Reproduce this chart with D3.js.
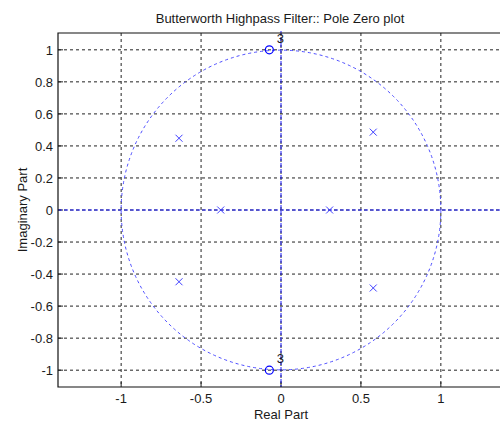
<!DOCTYPE html>
<html>
<head>
<meta charset="utf-8">
<script src="https://cdn.jsdelivr.net/npm/d3@7"></script>
<style>
  body { margin: 0; background: #fff; }
  svg text { font-family: Arial, "Liberation Sans", sans-serif; fill: #1a1a1a; }
</style>
</head>
<body>
<svg width="500" height="423"></svg>
<script>
// poles (x) and zeros (o)
var poleRe = [-0.638, -0.638, -0.377, 0.304, 0.577, 0.577];
var poleIm = [0.448, -0.448, 0, 0, 0.486, -0.487];
var zeroRe = [-0.073, -0.073];
var zeroIm = [1, -1];
var zeroMult = ["3", "3"];

var xTicks = [-1, -0.5, 0, 0.5, 1];
var xTickLabels = ["-1", "-0.5", "0", "0.5", "1"];
var yTicks = [-1, -0.8, -0.6, -0.4, -0.2, 0, 0.2, 0.4, 0.6, 0.8, 1];
var yTickLabels = ["-1", "-0.8", "-0.6", "-0.4", "-0.2", "0", "0.2", "0.4", "0.6", "0.8", "1"];

// plot box (right edge falls just outside the window)
var pLeft = 58, pTop = 33, pRight = 504, pBottom = 387;

var svg = d3.select("svg");

var x = d3.scaleLinear().domain([-1.395, 1.395]).range([pLeft, pRight]);
var y = d3.scaleLinear().domain([-1.105, 1.105]).range([pBottom, pTop]);

// grid
svg.append("g").selectAll("line")
  .data(xTicks)
  .enter()
  .append("line")
  .attr("x1", function (d) { return x(d); })
  .attr("x2", function (d) { return x(d); })
  .attr("y1", pTop)
  .attr("y2", pBottom)
  .attr("stroke", "#222")
  .attr("stroke-dasharray", "3,3");

svg.append("g").selectAll("line")
  .data(yTicks)
  .enter()
  .append("line")
  .attr("x1", pLeft)
  .attr("x2", pRight)
  .attr("y1", function (d) { return y(d); })
  .attr("y2", function (d) { return y(d); })
  .attr("stroke", "#222")
  .attr("stroke-dasharray", "3,3");

// tick marks (inside)
svg.append("g").selectAll("line")
  .data(xTicks)
  .enter()
  .append("line")
  .attr("x1", function (d) { return x(d); })
  .attr("x2", function (d) { return x(d); })
  .attr("y1", pBottom)
  .attr("y2", pBottom - 5)
  .attr("stroke", "#222");

svg.append("g").selectAll("line")
  .data(yTicks)
  .enter()
  .append("line")
  .attr("x1", pLeft)
  .attr("x2", pLeft + 5)
  .attr("y1", function (d) { return y(d); })
  .attr("y2", function (d) { return y(d); })
  .attr("stroke", "#222");

// unit circle
svg.append("circle")
  .attr("cx", x(0))
  .attr("cy", y(0))
  .attr("r", x(1) - x(0))
  .attr("fill", "none")
  .attr("stroke", "#4d4dff")
  .attr("stroke-dasharray", "3,3");

// real / imaginary axis lines
svg.append("line")
  .attr("x1", x(0)).attr("x2", x(0))
  .attr("y1", pTop - 2).attr("y2", pBottom)
  .attr("stroke", "#1f1fff")
  .attr("stroke-dasharray", "4,2");

svg.append("line")
  .attr("x1", pLeft).attr("x2", pRight)
  .attr("y1", y(0)).attr("y2", y(0))
  .attr("stroke", "#1f1fff")
  .attr("stroke-dasharray", "4,2");

// border
svg.append("path")
  .attr("d", "M" + pRight + "," + pTop + "H" + pLeft + "V" + pBottom + "H" + pRight)
  .attr("fill", "none")
  .attr("stroke", "#111")
  .attr("stroke-width", 1.2);

// poles
var s = 3.5;
svg.append("g").selectAll("path")
  .data(poleRe)
  .enter()
  .append("path")
  .attr("d", function (d, i) {
    var px = x(d), py = y(poleIm[i]);
    return "M" + (px - s) + "," + (py - s) + "L" + (px + s) + "," + (py + s) +
      "M" + (px - s) + "," + (py + s) + "L" + (px + s) + "," + (py - s);
  })
  .attr("stroke", "#4040ff")
  .attr("stroke-width", 1)
  .attr("fill", "none");

// zeros
svg.append("g").selectAll("circle")
  .data(zeroRe)
  .enter()
  .append("circle")
  .attr("cx", function (d) { return x(d); })
  .attr("cy", function (d, i) { return y(zeroIm[i]); })
  .attr("r", 4)
  .attr("fill", "none")
  .attr("stroke", "#0000ff")
  .attr("stroke-width", 1.2);

svg.append("g").selectAll("text")
  .data(zeroMult)
  .enter()
  .append("text")
  .attr("x", function (d, i) { return x(zeroRe[i]) + 7.5; })
  .attr("y", function (d, i) { return y(zeroIm[i]) - 7; })
  .attr("font-size", 13)
  .text(function (d) { return d; });

// tick labels
svg.append("g").selectAll("text")
  .data(xTicks)
  .enter()
  .append("text")
  .attr("x", function (d) { return x(d); })
  .attr("y", 403)
  .attr("text-anchor", "middle")
  .attr("font-size", 13)
  .text(function (d, i) { return xTickLabels[i]; });

svg.append("g").selectAll("text")
  .data(yTicks)
  .enter()
  .append("text")
  .attr("x", 53)
  .attr("y", function (d) { return y(d) + 4.7; })
  .attr("text-anchor", "end")
  .attr("font-size", 13)
  .text(function (d, i) { return yTickLabels[i]; });

// labels
svg.append("text")
  .attr("x", 280)
  .attr("y", 23)
  .attr("text-anchor", "middle")
  .attr("font-size", 13)
  .text("Butterworth Highpass Filter:: Pole Zero plot");

svg.append("text")
  .attr("x", 281)
  .attr("y", 419)
  .attr("text-anchor", "middle")
  .attr("font-size", 13)
  .text("Real Part");

svg.append("text")
  .attr("transform", "translate(27,210) rotate(-90)")
  .attr("text-anchor", "middle")
  .attr("font-size", 13)
  .text("Imaginary Part");
</script>
</body>
</html>
